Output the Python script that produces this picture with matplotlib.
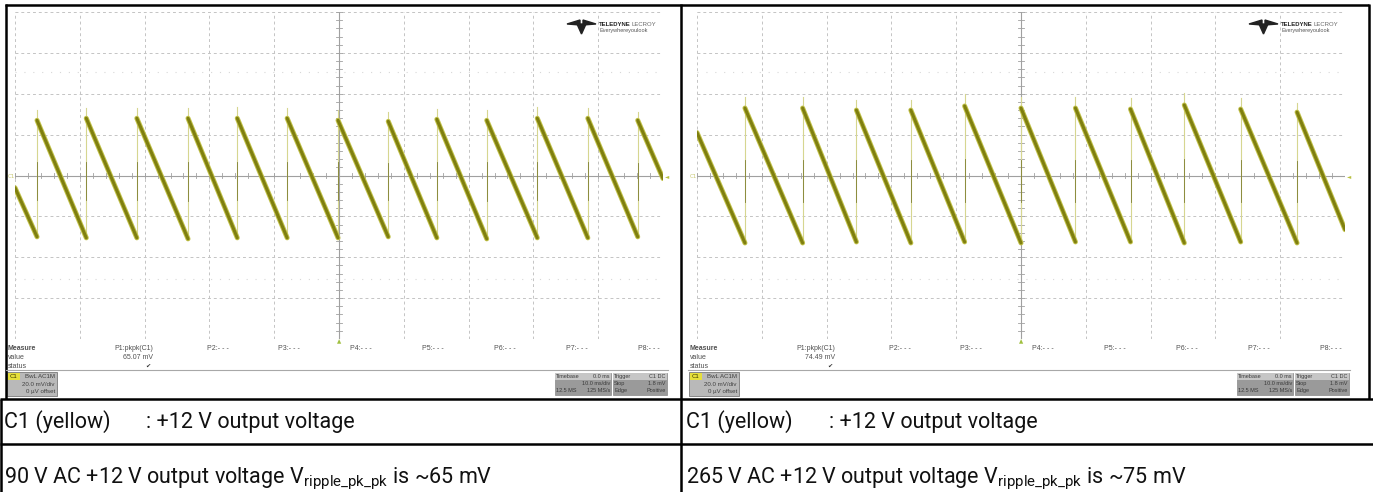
import matplotlib
matplotlib.use('Agg')
import matplotlib.pyplot as plt
from matplotlib.patches import Rectangle, Polygon
import numpy as np

# ---- data (time in ms, voltage in mV) ----
left_rise_ms = [-46.6, -39.0, -31.2, -23.3, -15.7, -8.0, -0.15, 7.6, 15.1, 22.8, 30.6, 38.4, 46.1]
left_spike_mV = [32.0, 33.0, 33.0, 33.0, 33.5, 33.0, 32.0, 31.0, 32.5, 32.0, 33.5, 33.0, 31.0]
left_top_mV = [27.0, 28.0, 28.0, 28.0, 28.0, 28.0, 27.0, 26.5, 27.5, 27.0, 28.0, 28.0, 27.0]
left_trough_mV = [-30.0, -30.5, -30.5, -31.0, -30.5, -30.5, -30.5, -30.0, -30.5, -31.0, -30.5, -30.5, -30.0]
left_ends_mV = [-6.0, -1.5]          # value at left / right screen edge
left_pkpk = '65.07 mV'

right_rise_ms = [-42.6, -33.7, -25.4, -17.0, -8.7, 0.0, 8.4, 16.9, 25.2, 33.9, 42.6]
right_spike_mV = [38.3, 38.3, 36.8, 36.8, 39.8, 38.3, 38.3, 37.8, 40.2, 37.8, 35.4]
right_top_mV = [33.0, 33.0, 32.0, 32.0, 34.0, 33.0, 33.0, 32.5, 34.5, 32.5, 31.0]
right_trough_mV = [-33.0, -33.0, -32.5, -33.0, -32.5, -33.0, -32.5, -32.5, -33.0, -32.5, -33.0]
right_ends_mV = [21.0, -26.5]
right_pkpk = '74.49 mV'

row_label = ['C1 (yellow)', ': +12 V output voltage']
captions = [r'90 V AC +12 V output voltage V$_{\mathrm{ripple\_pk\_pk}}$ is ~65 mV',
            r'265 V AC +12 V output voltage V$_{\mathrm{ripple\_pk\_pk}}$ is ~75 mV']
params = ['P1:pkpk(C1)', 'P2:- - -', 'P3:- - -', 'P4:- - -', 'P5:- - -', 'P6:- - -', 'P7:- - -', 'P8:- - -']

plt.rcParams['mathtext.fontset'] = 'custom'
plt.rcParams['mathtext.rm'] = 'Roboto'

W, H = 1373, 492
fig = plt.figure(figsize=(W / 100, H / 100), dpi=100)
fig.patch.set_facecolor('white')

bg = fig.add_axes([0, 0, 1, 1])
bg.set_xlim(0, W)
bg.set_ylim(H, 0)
bg.axis('off')

# table borders
blk = dict(color='black', lw=1.8, solid_capstyle='butt')
bg.plot([5, 1369], [4.5, 4.5], **blk)
bg.plot([5.5, 5.5], [4, 399], **blk)
bg.plot([1, 1], [399, 492], **blk)
bg.plot([681, 681], [4, 492], **blk)
bg.plot([1368.5, 1368.5], [4, 399], **blk)
bg.plot([0, W], [398.5, 398.5], **blk)
bg.plot([0, W], [444, 444], **blk)

# text rows
tf = dict(family='Roboto', fontsize=15.5, color='#111111', va='baseline')
for x0, xc in [(4, 146), (686, 829)]:
    bg.text(x0, 428, row_label[0], **tf)
    bg.text(xc, 428, row_label[1], **tf)
bg.text(4, 483, captions[0], **tf)
bg.text(686, 483, captions[1], **tf)


def scope(ox, rise, spike, top, trough, ends, pkpk):
    # grid area in pixels
    gx0, gx1, gy0, gy1 = 15 + ox, 663 + ox, 12, 339
    ax = fig.add_axes([gx0 / W, 1 - gy1 / H, (gx1 - gx0) / W, (gy1 - gy0) / H])
    ax.set_xlim(-50, 50)
    ax.set_ylim(-80, 80)
    ax.axis('off')
    for t in np.arange(-50, 51, 10):
        if t != 0:
            ax.axvline(t, color='#c4c4c4', lw=0.7, ls=(0, (3, 3)))
    for v in np.arange(-80, 81, 20):
        if v != 0:
            ax.axhline(v, color='#c4c4c4', lw=0.7, ls=(0, (3, 3)))
    for v in (-50.5, 50.5):
        ax.axhline(v, color='#d8d8d8', lw=0.8, ls=(0, (1, 7)))
    ax.axvline(0, color='#a0a0a0', lw=0.8)
    ax.axhline(0, color='#a0a0a0', lw=0.8)
    for t in np.arange(-50, 51, 2):
        ax.plot([t, t], [-1.3, 1.3], color='#a0a0a0', lw=0.6)
    for v in np.arange(-80, 81, 4):
        ax.plot([-0.4, 0.4], [v, v], color='#a0a0a0', lw=0.6)

    # trace: thick decays, thin rises
    starts = [(-50, ends[0])] + list(zip(rise, top))
    stops = list(zip(rise, trough)) + [(50, ends[1])]
    for (t0, v0), (t1, v1) in zip(starts, stops):
        ax.plot([t0, t1], [v0, v1], color='#c2c24a', lw=3.6, solid_capstyle='round', zorder=3)
        ax.plot([t0, t1], [v0, v1], color='#7f7f10', lw=2.2, solid_capstyle='round', zorder=4)
    for t, lo, hi in zip(rise, trough, spike):
        ax.plot([t, t], [lo, hi], color='#d6d690', lw=0.8, zorder=2)
        ax.plot([t, t], [lo * 0.4, hi * 0.2], color='#7f7f30', lw=0.6, zorder=2)

    # markers
    bg.text(gx0 - 7, 176, 'C1', fontsize=4, color='#c8c870', va='center')
    bg.text(gx1 + 2, 177, '\u25c4', fontsize=4, color='#b8c040', va='center')
    bg.text(ox + 339, 342, '\u25b2', fontsize=4, color='#a0c040', ha='center', va='center')

    # logo
    lx, ly = 567 + ox, 20
    ic = '#222222'
    bg.add_patch(Polygon([(lx, ly + 4), (lx + 13, ly), (lx + 13, ly + 5)], color=ic))
    bg.add_patch(Polygon([(lx + 29, ly + 4), (lx + 16, ly), (lx + 16, ly + 5)], color=ic))
    bg.add_patch(Polygon([(lx + 10, ly + 4), (lx + 19, ly + 4), (lx + 14.5, ly + 14)], color=ic))
    lf = dict(family='Liberation Sans', va='center')
    bg.text(lx + 32, ly + 4.5, 'TELEDYNE', fontsize=4.3, weight='bold', color='#222222', **lf)
    bg.text(lx + 64, ly + 4.5, 'LECROY', fontsize=4.3, color='#666666', **lf)
    bg.text(lx + 32, ly + 10.5, 'Everywhereyoulook', fontsize=4.0, color='#555555', **lf)

    # measure area
    sf = dict(family='Liberation Sans', fontsize=5, color='#505050')
    bg.text(ox + 8, 349, 'Measure', weight='bold', va='center', **sf)
    bg.text(ox + 8, 357.5, 'value', va='center', **sf)
    bg.text(ox + 8, 366, 'status', va='center', **sf)
    px = [114, 207, 278, 350, 422, 494, 566, 638]
    for p, x in zip(params, px):
        bg.text(ox + x, 349, p, va='center', **sf)
    bg.text(ox + 153, 357.5, pkpk, ha='right', va='center', **sf)
    bg.text(ox + 148, 366, '\u2714', ha='center', va='center', fontsize=4.5, color='#303030')
    bg.plot([ox + 6, ox + 668], [370, 370], color='#a8a8a8', lw=0.8)

    # channel box
    bf = dict(family='Liberation Sans', fontsize=4.4, color='#404040')
    bg.add_patch(Rectangle((ox + 7, 372), 50, 24, facecolor='#b9b9b9', edgecolor='#7a7a7a', lw=0.6))
    bg.add_patch(Rectangle((ox + 8, 373), 12, 7, facecolor='#e6df3c', edgecolor='none'))
    bg.text(ox + 14, 376.5, 'C1', fontsize=4.3, ha='center', va='center', color='#333300')
    bg.text(ox + 55, 376.5, 'BwL AC1M', ha='right', va='center', **bf)
    bg.text(ox + 55, 384.5, '20.0 mV/div', ha='right', va='center', **bf)
    bg.text(ox + 55, 391.5, '0 \u00b5V offset', ha='right', va='center', **bf)

    # timebase / trigger boxes
    tb = dict(family='Liberation Sans', fontsize=4.0, color='#3a3a3a')
    for bx, bw, rows in [(555, 56, [('Timebase', '0.0 ms'), ('', '10.0 ms/div'), ('12.5 MS', '125 MS/s')]),
                         (613, 54, [('Trigger', 'C1 DC'), ('Stop', '1.8 mV'), ('Edge', 'Positive')])]:
        bg.add_patch(Rectangle((ox + bx, 373), bw, 22, facecolor='#9a9a9a', edgecolor='#888888', lw=0.5))
        bg.add_patch(Rectangle((ox + bx, 373), bw, 7, facecolor='#c6c6c6', edgecolor='none'))
        for k, (a, b) in enumerate(rows):
            yy = 376.5 + 7 * k
            bg.text(ox + bx + 1.2, yy, a, ha='left', va='center', **tb)
            bg.text(ox + bx + bw - 1.2, yy, b, ha='right', va='center', **tb)


scope(0, left_rise_ms, left_spike_mV, left_top_mV, left_trough_mV, left_ends_mV, left_pkpk)
scope(682, right_rise_ms, right_spike_mV, right_top_mV, right_trough_mV, right_ends_mV, right_pkpk)

fig.savefig('out.png', dpi=100, facecolor='white')
